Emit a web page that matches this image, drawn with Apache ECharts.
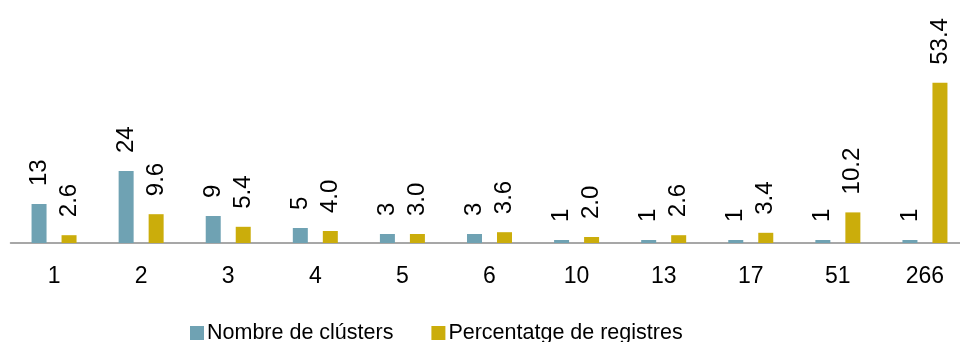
<!DOCTYPE html>
<html>
<head>
<meta charset="utf-8">
<script src="https://cdn.jsdelivr.net/npm/echarts@6/dist/echarts.min.js"></script>
<style>html,body{margin:0;padding:0;background:#fff;overflow:hidden;width:960px;height:342px}#c{width:969px;height:342px}</style>
</head>
<body>
<div id="c"></div>
<script>
var categories = ['1','2','3','4','5','6','10','13','17','51','266'];
var clusters = [13,24,9,5,3,3,1,1,1,1,1];
var percent = [2.6,9.6,5.4,4.0,3.0,3.6,2.0,2.6,3.4,10.2,53.4];
var seriesNames = ['Nombre de clústers','Percentatge de registres'];

var font = '"Liberation Sans", Arial, sans-serif';
var chart = echarts.init(document.getElementById('c'));
function lbl(fmt){
  return {show:true, position:'top', rotate:90, align:'left', verticalAlign:'middle',
    distance:18, fontSize:24, fontFamily:font, color:'#000', formatter:fmt};
}
chart.setOption({
  animation:false,
  grid:{left:10.5, right:0.5, top:63, height:180, containLabel:false},
  legend:{left:190, top:322, padding:0, itemWidth:14, itemHeight:14, itemGap:38, icon:'rect',
    textStyle:{fontSize:21.5, fontFamily:font, color:'#000', padding:[0,0,0,-2]},
    data:seriesNames},
  xAxis:{type:'category', data:categories,
    axisLine:{lineStyle:{color:'#8a8a8a', width:1.5}},
    axisTick:{show:false},
    axisLabel:{fontSize:23, fontFamily:font, color:'#000', margin:22}},
  yAxis:{type:'value', min:0, max:60, show:false, splitLine:{show:false}},
  series:[
    {name:seriesNames[0], type:'bar', data:clusters, barWidth:15, barGap:'100%',
      itemStyle:{color:'#6FA2B3'}, label:lbl(function(p){return String(p.value);})},
    {name:seriesNames[1], type:'bar', data:percent, barWidth:15,
      itemStyle:{color:'#CBAD0B'}, label:lbl(function(p){return p.value.toFixed(1);})}
  ]
});
</script>
</body>
</html>
